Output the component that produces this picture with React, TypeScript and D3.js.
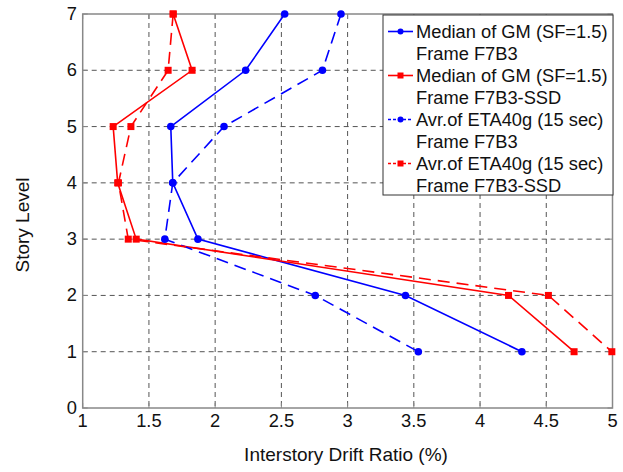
import React from "react";
import * as d3 from "d3";

const stories = [7, 6, 5, 4, 3, 2, 1];
const medianF7B3 = [2.525, 2.23, 1.665, 1.68, 1.87, 3.437, 4.316];
const medianSSD = [1.683, 1.826, 1.23, 1.264, 1.404, 4.215, 4.71];
const avrF7B3 = [2.95, 2.81, 2.067, 1.68, 1.62, 2.756, 3.534];
const avrSSD = [1.683, 1.645, 1.364, 1.27, 1.344, 4.516, 4.995];

const xTicks = [1, 1.5, 2, 2.5, 3, 3.5, 4, 4.5, 5];
const yTicks = [0, 1, 2, 3, 4, 5, 6, 7];

const seriesDefs = [
  { name: ["Median of GM (SF=1.5)", "Frame F7B3"], values: medianF7B3, color: "#0000ff", dashed: false, marker: "circle" },
  { name: ["Median of GM (SF=1.5)", "Frame F7B3-SSD"], values: medianSSD, color: "#ff0000", dashed: false, marker: "square" },
  { name: ["Avr.of ETA40g (15 sec)", "Frame F7B3"], values: avrF7B3, color: "#0000ff", dashed: true, marker: "circle" },
  { name: ["Avr.of ETA40g (15 sec)", "Frame F7B3-SSD"], values: avrSSD, color: "#ff0000", dashed: true, marker: "square" },
];

export default function App() {
  const W = 623, H = 472;
  const left = 82.7, right = 612.5, top = 14, bottom = 408;
  const x = d3.scaleLinear().domain([1, 5]).range([left, right]);
  const y = d3.scaleLinear().domain([0, 7]).range([bottom, top]);
  const font = "'Liberation Sans', Arial, sans-serif";
  const line = d3.line<[number, number]>().x(d => x(d[0])).y(d => y(d[1]));
  const fs = 18.3;

  return (
    <svg width={W} height={H} style={{ position: "absolute", left: 0, top: 0, background: "#fff" }} fontFamily={font}>
      <rect x={0} y={0} width={W} height={H} fill="#fff" />
      {/* grid */}
      {xTicks.slice(1, -1).map(t => (
        <line key={"gx" + t} x1={x(t)} x2={x(t)} y1={top} y2={bottom} stroke="#555" strokeWidth={1} strokeDasharray="5,4" />
      ))}
      {yTicks.slice(1, -1).map(t => (
        <line key={"gy" + t} x1={left} x2={right} y1={y(t)} y2={y(t)} stroke="#555" strokeWidth={1} strokeDasharray="5,4" />
      ))}
      {/* frame */}
      <rect x={left} y={top} width={right - left} height={bottom - top} fill="none" stroke="#888" strokeWidth={1.5} />
      {/* ticks */}
      {xTicks.map(t => (
        <g key={"xt" + t}>
          <line x1={x(t)} x2={x(t)} y1={bottom} y2={bottom - 5} stroke="#888" />
          <line x1={x(t)} x2={x(t)} y1={top} y2={top + 5} stroke="#888" />
          <text x={x(t)} y={427} textAnchor="middle" fontSize={fs} fill="#111">{t}</text>
        </g>
      ))}
      {yTicks.map(t => (
        <g key={"yt" + t}>
          <line x1={left} x2={left + 5} y1={y(t)} y2={y(t)} stroke="#888" />
          <line x1={right} x2={right - 5} y1={y(t)} y2={y(t)} stroke="#888" />
          <text x={77} y={y(t) + 6} textAnchor="end" fontSize={fs} fill="#111">{t}</text>
        </g>
      ))}
      {/* series */}
      {seriesDefs.map((s, i) => {
        const pts: [number, number][] = s.values.map((v, j) => [v, stories[j]]);
        return (
          <g key={"s" + i}>
            <path d={line(pts) || ""} fill="none" stroke={s.color} strokeWidth={1.6} strokeDasharray={s.dashed ? "12,7" : undefined} />
            {pts.map((p, j) =>
              s.marker === "circle" ? (
                <circle key={j} cx={x(p[0])} cy={y(p[1])} r={3.8} fill={s.color} />
              ) : (
                <rect key={j} x={x(p[0]) - 3.5} y={y(p[1]) - 3.5} width={7} height={7} fill={s.color} />
              )
            )}
          </g>
        );
      })}
      {/* legend */}
      <rect x={383} y={15} width={230} height={180} fill="#fff" stroke="#333" strokeWidth={1} />
      {seriesDefs.map((s, i) => {
        const ly = 31.5 + i * 44;
        return (
          <g key={"l" + i}>
            <line x1={388} x2={413} y1={ly} y2={ly} stroke={s.color} strokeWidth={1.6} strokeDasharray={s.dashed ? "3,2" : undefined} />
            {s.marker === "circle" ? (
              <circle cx={400.5} cy={ly} r={3} fill={s.color} />
            ) : (
              <rect x={397.5} y={ly - 3} width={6} height={6} fill={s.color} />
            )}
            <text x={416} y={ly + 6.5} fontSize={fs} fill="#111">{s.name[0]}</text>
            <text x={416} y={ly + 28} fontSize={fs} fill="#111">{s.name[1]}</text>
          </g>
        );
      })}
      {/* axis labels */}
      <text x={346} y={461} textAnchor="middle" fontSize={19} fill="#111">Interstory Drift Ratio (%)</text>
      <text transform={`translate(29,225) rotate(-90)`} textAnchor="middle" fontSize={19} fill="#111">Story Level</text>
    </svg>
  );
}
